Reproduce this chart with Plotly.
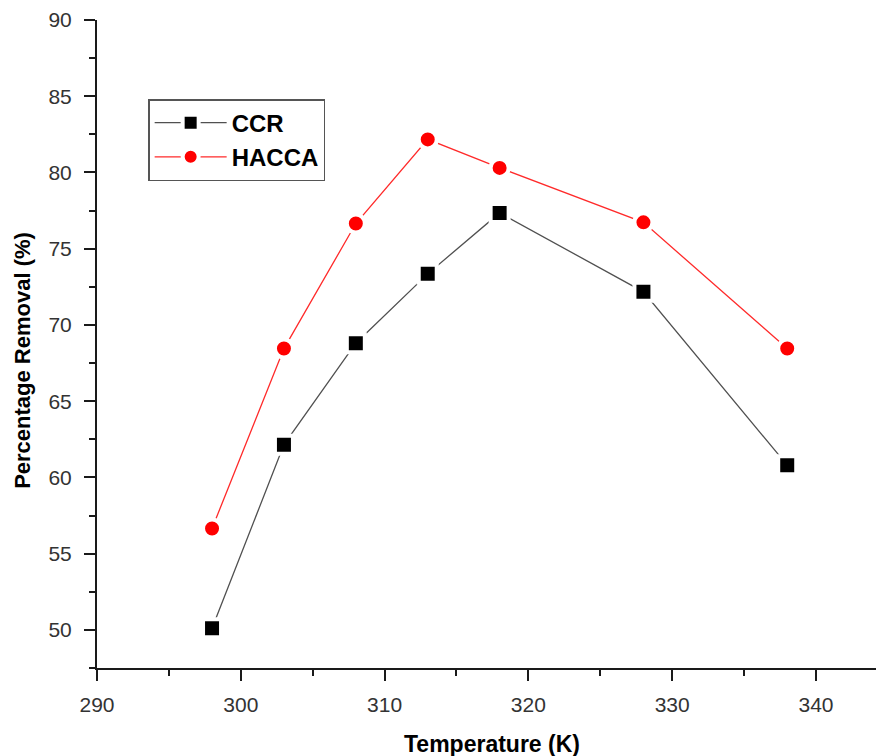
import plotly.graph_objects as go

temperature = [298, 303, 308, 313, 318, 328, 338]
ccr = [50.1, 62.15, 68.8, 73.35, 77.35, 72.17, 60.8]
hacca = [56.65, 68.45, 76.65, 82.17, 80.3, 76.73, 68.45]

x_ticks = [290, 300, 310, 320, 330, 340]
y_ticks = [50, 55, 60, 65, 70, 75, 80, 85, 90]

FONT = "Liberation Sans, Arial, sans-serif"

fig = go.Figure()
fig.add_trace(go.Scatter(
    x=temperature, y=ccr, name="<b>CCR</b>", mode="lines+markers",
    legendgroup="a",
    line=dict(color="#505050", width=1.3),
    marker=dict(symbol="square", size=18, color="black",
                line=dict(color="white", width=4)),
))
fig.add_trace(go.Scatter(
    x=temperature, y=hacca, name="<b>HACCA</b>", mode="lines+markers",
    legendgroup="b",
    line=dict(color="#ff2a2a", width=1.3),
    marker=dict(symbol="circle", size=18, color="#ff0000",
                line=dict(color="white", width=4)),
))

axis_common = dict(
    showline=True, linecolor="#1a1a1a", linewidth=2,
    ticks="outside", ticklen=11, tickwidth=2, tickcolor="#1a1a1a",
    showgrid=False, zeroline=False,
    tickfont=dict(family=FONT, size=21, color="#333333"),
)

fig.update_xaxes(
    range=[290, 344.73], tickvals=x_ticks,
    minor=dict(ticks="outside", ticklen=6, tickwidth=2, tickcolor="#1a1a1a", dtick=5, tick0=290),
    ticklabelstandoff=6,
    **axis_common,
)
fig.update_yaxes(
    range=[47.5, 90], tickvals=y_ticks,
    minor=dict(ticks="outside", ticklen=6, tickwidth=2, tickcolor="#1a1a1a", dtick=2.5, tick0=50),
    ticklabelstandoff=8,
    **axis_common,
)

fig.add_annotation(
    text="<b>Temperature (K)</b>", xref="paper", yref="paper",
    x=0.502, y=-0.117, xanchor="center", yanchor="middle", showarrow=False,
    font=dict(family=FONT, size=23, color="black"),
)
fig.add_annotation(
    text="<b>Percentage Removal (%)</b>", xref="paper", yref="paper",
    x=-0.094, y=0.474, xanchor="center", yanchor="middle", showarrow=False,
    textangle=-90,
    font=dict(family=FONT, size=22, color="black"),
)

# page body has an 8px margin; compensate so the plot lands where the reference has it
fig.update_layout(
    width=876, height=748,
    margin=dict(l=89, r=0, t=12, b=88),
    paper_bgcolor="white", plot_bgcolor="white",
    showlegend=True,
    legend=dict(
        x=0.065, y=0.878, xanchor="left", yanchor="top",
        bordercolor="#555555", borderwidth=1.5, bgcolor="white",
        font=dict(family=FONT, size=24, color="black"),
        itemwidth=72, tracegroupgap=0,
    ),
    font=dict(family=FONT),
)

fig.write_html("out.html")
